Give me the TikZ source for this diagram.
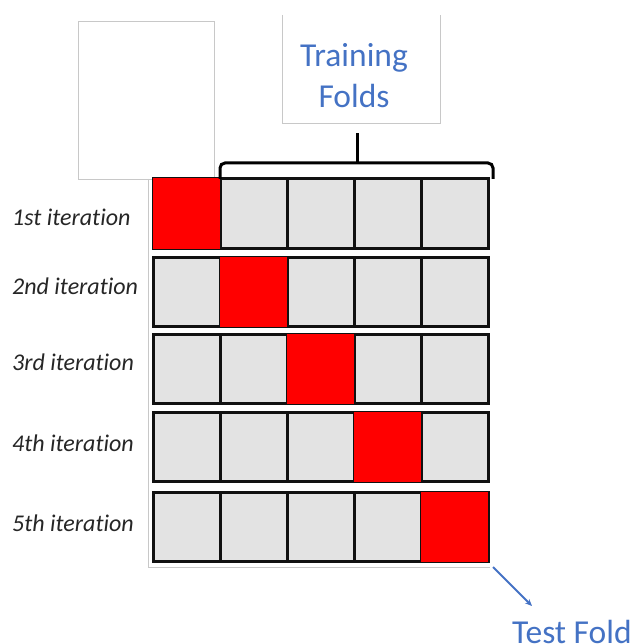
\documentclass[tikz,border=0pt]{standalone}
\usepackage{fontspec}
\setmainfont{Carlito}[Ligatures=NoCommon]
\usetikzlibrary{arrows.meta}
\definecolor{cellgray}{HTML}{E3E3E3}
\definecolor{foldred}{HTML}{FF0000}
\definecolor{txtblue}{HTML}{4472C4}
\definecolor{framegray}{HTML}{C8C8C8}
\definecolor{cellline}{HTML}{111111}
\tikzset{
  cell/.style={rectangle, draw=cellline, fill=cellgray, line width=3pt, minimum width=67pt, minimum height=69pt, inner sep=0pt, outer sep=0pt},
  testcell/.style={rectangle, fill=foldred, draw=none, minimum width=67pt, minimum height=70pt, inner sep=0pt, outer sep=0pt},
  iterlabel/.style={anchor=base west, inner sep=0pt, font=\fontsize{24}{28}\selectfont\itshape, text=black!85},
  bluelabel/.style={anchor=base, inner sep=0pt, font=\fontsize{33.5}{41}\selectfont, text=txtblue},
  frame/.style={draw=framegray, line width=0.9pt},
  bracestyle/.style={draw=black, line width=3pt, rounded corners=5pt},
  arrowstyle/.style={draw=txtblue, line width=1.8pt, -{Stealth[length=7pt,width=6pt]}}
}
\begin{document}
\begin{tikzpicture}[x=1pt,y=-1pt]
\useasboundingbox (0,0) rectangle (633,644);
% gray frames
\draw[frame] (78,21) rectangle (214,179);
\draw[frame] (148,179) -- (148,567) -- (490,567);
\draw[frame] (282,15) -- (282,123) -- (440,123) -- (440,15);
% cells
\foreach \r/\y in {1/213.5, 2/291.5, 3/368.5, 4/446.5, 5/526.5}{
  \foreach \c/\x in {1/186.5, 2/253.5, 3/320.5, 4/387.5, 5/454.5}{
    \node[cell] (c\r\c) at (\x,\y) {};
  }
}
% test folds
\node[testcell] (t1) at (c11) {};
\node[testcell] (t2) at (c22) {};
\node[testcell] (t3) at (c33) {};
\node[testcell] (t4) at (c44) {};
\node[testcell] (t5) at (c55) {};
% labels
\node[iterlabel] (l1) at (12,225) {1st iteration};
\node[iterlabel] (l2) at (12,294) {2nd iteration};
\node[iterlabel] (l3) at (12,370) {3rd iteration};
\node[iterlabel] (l4) at (12,451) {4th iteration};
\node[iterlabel] (l5) at (12,531) {5th iteration};
% brace
\draw[bracestyle] (220,179) -- (220,163) -- (493,163) -- (493,179);
\draw[draw=black, line width=3pt] (357,164) -- (357,133);
% training folds text
\node[bluelabel] (train1) at (354,67) {Training};
\node[bluelabel] (train2) at (354,108) {Folds};
% test fold
\coordinate (astart) at (493,567);
\node[anchor=base west, inner sep=0pt, font=\fontsize{33.5}{41}\selectfont, text=txtblue] (testfold) at (512,643) {Test Fold};
\coordinate (aend) at (532,606);
\draw[arrowstyle] (astart) -- (aend);
\end{tikzpicture}
\end{document}
